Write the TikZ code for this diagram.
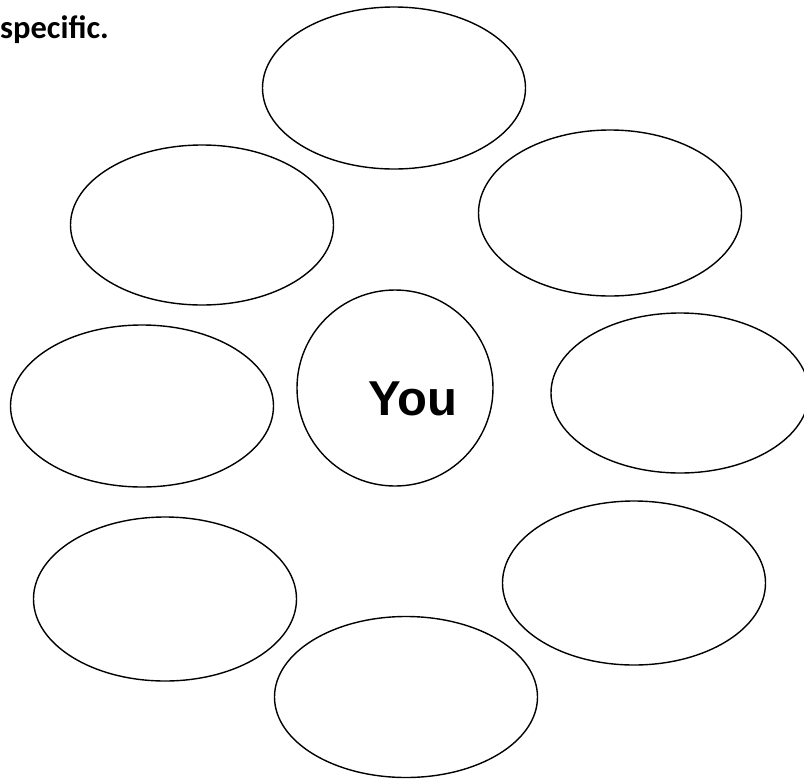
\documentclass[tikz,border=0pt]{standalone}
\usepackage{fontspec}
\setmainfont{Carlito}
\newfontfamily\youfont{Liberation Sans}
\usetikzlibrary{shapes.geometric}

\begin{document}
\begin{tikzpicture}[
      x=1pt, y=-1pt,
      bubble/.style={draw, ellipse, line width=1.4pt, inner sep=0pt,
                     minimum width=263pt, minimum height=162pt},
      centre/.style={draw, circle, line width=1.4pt, inner sep=0pt,
                     minimum size=196pt}
    ]
    \useasboundingbox (0,0) rectangle (804,780);

    % Instruction (cut off)
    \node[anchor=base west, inner sep=0pt, font=\bfseries\fontsize{32.5}{36}\selectfont]
      (instr) at (0,38) {specific.};

    % Centre
    \node[centre] (you) at (395,388) {};
    \node[anchor=base, inner sep=0pt, font=\youfont\bfseries\fontsize{49}{52}\selectfont]
      (youtxt) at (413,415) {You};

    % Surrounding ellipses
    \node[bubble] (top) at (394,88)  {};
    \node[bubble, minimum height=160pt] (ul) at (202,225) {};
    \node[bubble, minimum height=166pt] (ur) at (610,213) {};
    \node[bubble] (ml)  at (142,406) {};
    \node[bubble, minimum width=258pt, minimum height=160pt] (mr) at (680,393) {};
    \node[bubble, minimum height=164pt] (ll) at (165,599) {};
    \node[bubble, minimum height=164pt] (lr) at (634,583) {};
    \node[bubble, minimum height=161pt] (bot) at (406,697) {};
  \end{tikzpicture}
\end{document}
